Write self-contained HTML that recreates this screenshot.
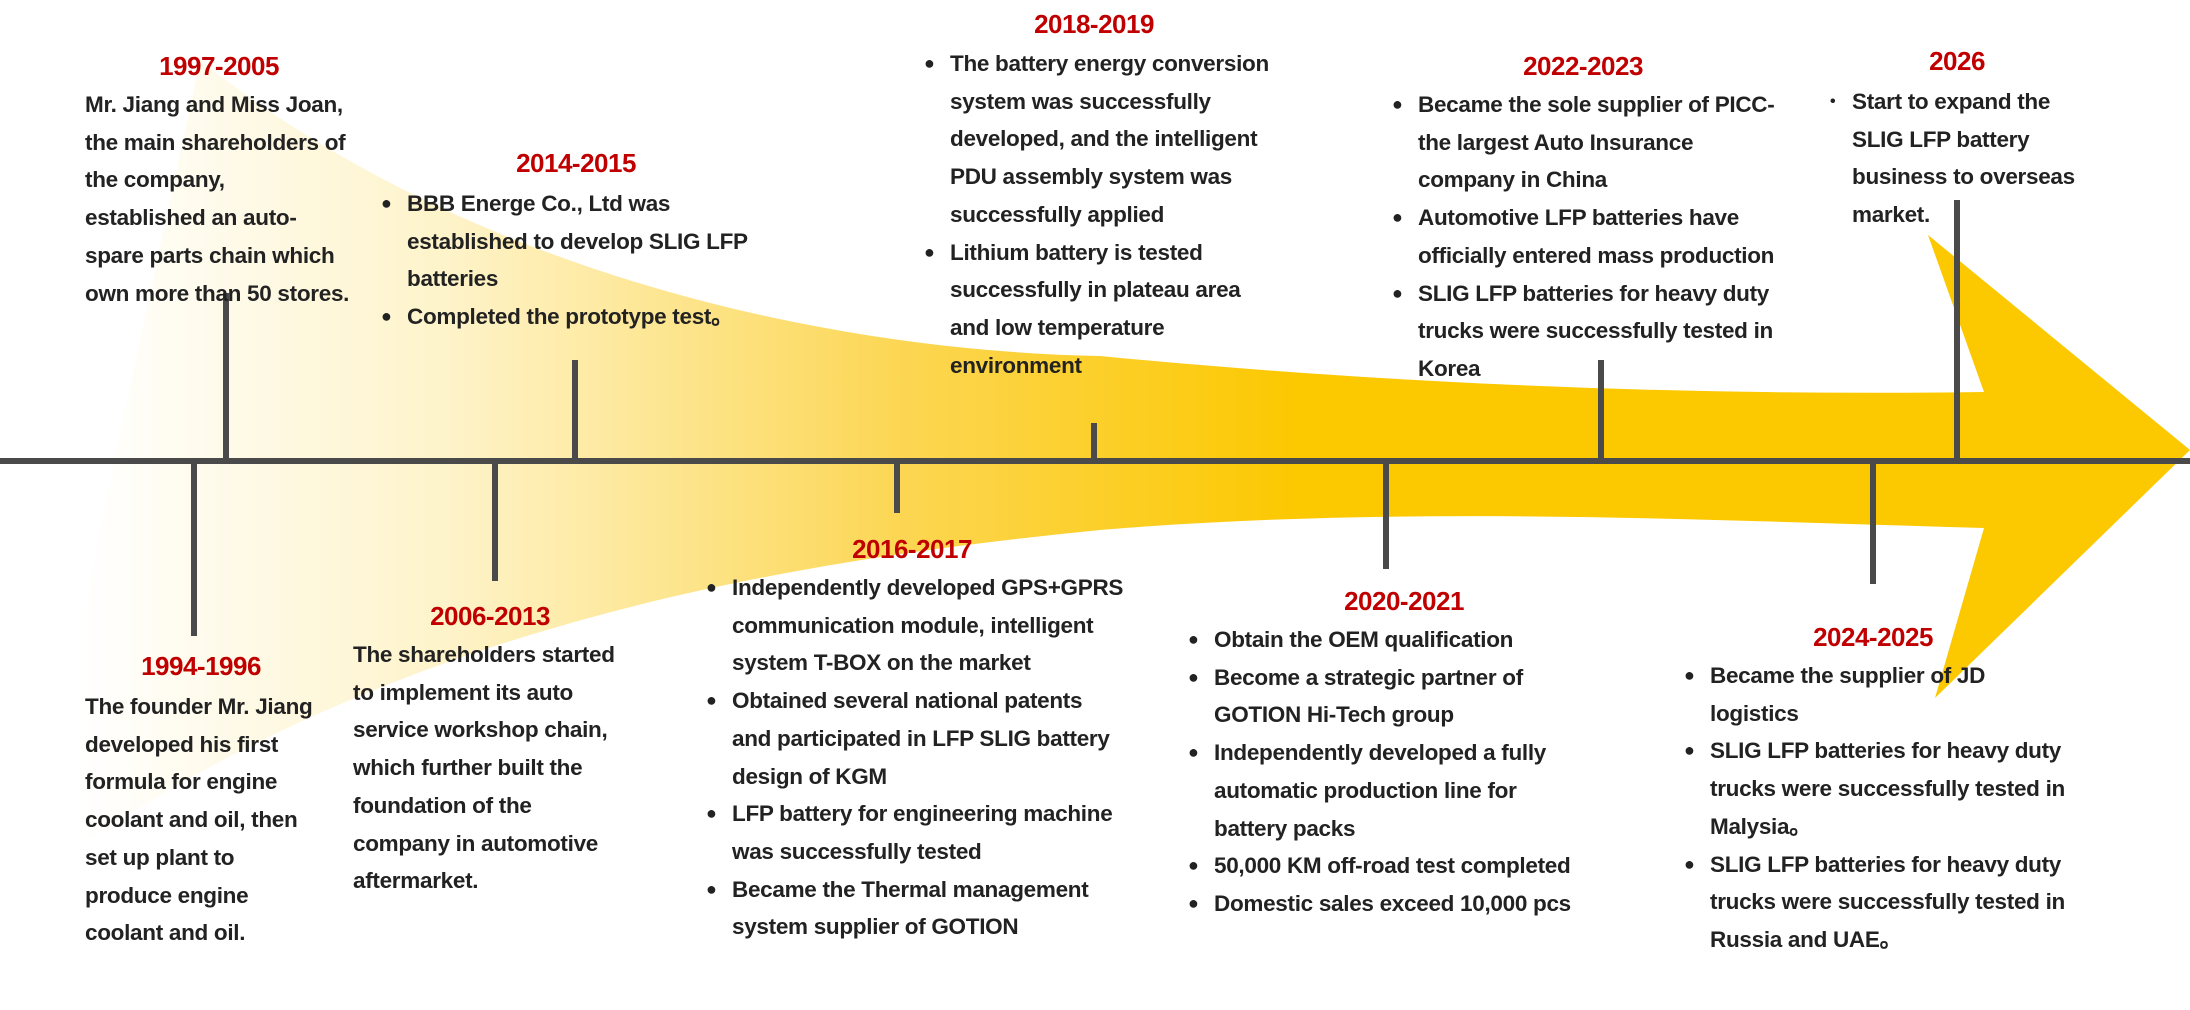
<!DOCTYPE html>
<html><head><meta charset="utf-8">
<style>
html,body{margin:0;padding:0;background:#fff;}
#root{position:relative;width:2190px;height:1010px;overflow:hidden;font-family:"Liberation Sans",sans-serif;}
.t{position:absolute;color:#c00000;font-weight:bold;font-size:26px;line-height:30px;transform:translate(-50%,-50%);white-space:nowrap;letter-spacing:-0.5px;}
.b{position:absolute;color:#222;font-weight:bold;font-size:22.5px;line-height:37.7px;white-space:nowrap;letter-spacing:-0.3px;}
.b ul{list-style:none;margin:0;padding:0;}
.b li{position:relative;}
.b li::before{content:"●";position:absolute;left:-26px;font-size:18px;}
.b.dot li::before{content:"•";font-size:16px;left:-22px;}
.tick{position:absolute;width:6px;background:#4a4a4a;}
</style></head><body>
<div id="root">
<svg width="2190" height="1010" style="position:absolute;left:0;top:0">
<defs><linearGradient id="g" x1="0" y1="0" x2="1300" y2="0" gradientUnits="userSpaceOnUse">
<stop offset="0.06" stop-color="#fff"/><stop offset="0.35" stop-color="#fef3c8"/><stop offset="0.7" stop-color="#fcd651"/><stop offset="1" stop-color="#fcc800"/></linearGradient></defs>
<path fill="url(#g)" d="M200,60 C450,260 800,350 1100,356 C1400,385 1700,396 1984,392 L1928,235 L2190,450 L1935,698 L1984,528 C1700,520 1400,505 1100,530 C800,560 400,620 60,860 L40,860 C80,600 150,300 200,60 Z"/>
<rect x="0" y="458" width="2190" height="6" fill="#4a4a4a"/>
</svg>
<div class="tick" style="left:223px;top:293px;height:168px"></div>
<div class="tick" style="left:191px;top:461px;height:175px"></div>
<div class="tick" style="left:572px;top:360px;height:101px"></div>
<div class="tick" style="left:492px;top:461px;height:120px"></div>
<div class="tick" style="left:894px;top:461px;height:52px"></div>
<div class="tick" style="left:1091px;top:423px;height:38px"></div>
<div class="tick" style="left:1383px;top:461px;height:108px"></div>
<div class="tick" style="left:1598px;top:360px;height:101px"></div>
<div class="tick" style="left:1870px;top:461px;height:123px"></div>
<div class="tick" style="left:1954px;top:200px;height:261px"></div>

<div class="t" style="left:219px;top:66px">1997-2005</div>
<div class="b" style="left:85px;top:86px">Mr. Jiang and Miss Joan,<br>the main shareholders of<br>the company,<br>established an auto-<br>spare parts chain which<br>own more than 50 stores.</div>

<div class="t" style="left:576px;top:163px">2014-2015</div>
<div class="b" style="left:407px;top:185px"><ul><li>BBB Energe Co., Ltd was<br>established to develop SLIG LFP<br>batteries</li><li>Completed the prototype test。</li></ul></div>

<div class="t" style="left:1094px;top:24px">2018-2019</div>
<div class="b" style="left:950px;top:45px"><ul><li>The battery energy conversion<br>system was successfully<br>developed, and the intelligent<br>PDU assembly system was<br>successfully applied</li><li>Lithium battery is tested<br>successfully in plateau area<br>and low temperature<br>environment</li></ul></div>

<div class="t" style="left:1583px;top:66px">2022-2023</div>
<div class="b" style="left:1418px;top:86px"><ul><li>Became the sole supplier of PICC-<br>the largest Auto Insurance<br>company in China</li><li>Automotive LFP batteries have<br>officially entered mass production</li><li>SLIG LFP batteries for heavy duty<br>trucks were successfully tested in<br>Korea</li></ul></div>

<div class="t" style="left:1957px;top:61px">2026</div>
<div class="b dot" style="left:1852px;top:83px"><ul><li>Start to expand the<br>SLIG LFP battery<br>business to overseas<br>market.</li></ul></div>

<div class="t" style="left:201px;top:666px">1994-1996</div>
<div class="b" style="left:85px;top:688px">The founder Mr. Jiang<br>developed his first<br>formula  for engine<br>coolant and oil, then<br>set up plant to<br>produce engine<br>coolant and oil.</div>

<div class="t" style="left:490px;top:616px">2006-2013</div>
<div class="b" style="left:353px;top:636px">The shareholders started<br>to implement its auto<br>service workshop chain,<br>which further built the<br>foundation of the<br>company in automotive<br>aftermarket.</div>

<div class="t" style="left:912px;top:549px">2016-2017</div>
<div class="b" style="left:732px;top:569px"><ul><li>Independently developed GPS+GPRS<br>communication module, intelligent<br>system T-BOX on the market</li><li>Obtained several national patents<br>and participated in LFP SLIG battery<br>design of KGM</li><li>LFP battery for engineering machine<br>was successfully tested</li><li>Became the Thermal management<br>system supplier of GOTION</li></ul></div>

<div class="t" style="left:1404px;top:601px">2020-2021</div>
<div class="b" style="left:1214px;top:621px"><ul><li>Obtain the OEM qualification</li><li>Become a strategic partner of<br>GOTION Hi-Tech group</li><li>Independently developed a fully<br>automatic production line for<br>battery packs</li><li>50,000 KM off-road test  completed</li><li>Domestic sales exceed 10,000 pcs</li></ul></div>

<div class="t" style="left:1873px;top:637px">2024-2025</div>
<div class="b" style="left:1710px;top:657px"><ul><li>Became the supplier of JD<br>logistics</li><li>SLIG LFP batteries for heavy duty<br>trucks were successfully tested in<br>Malysia。</li><li>SLIG LFP batteries for heavy duty<br>trucks were successfully tested in<br>Russia and UAE。</li></ul></div>
</div>
</body></html>
